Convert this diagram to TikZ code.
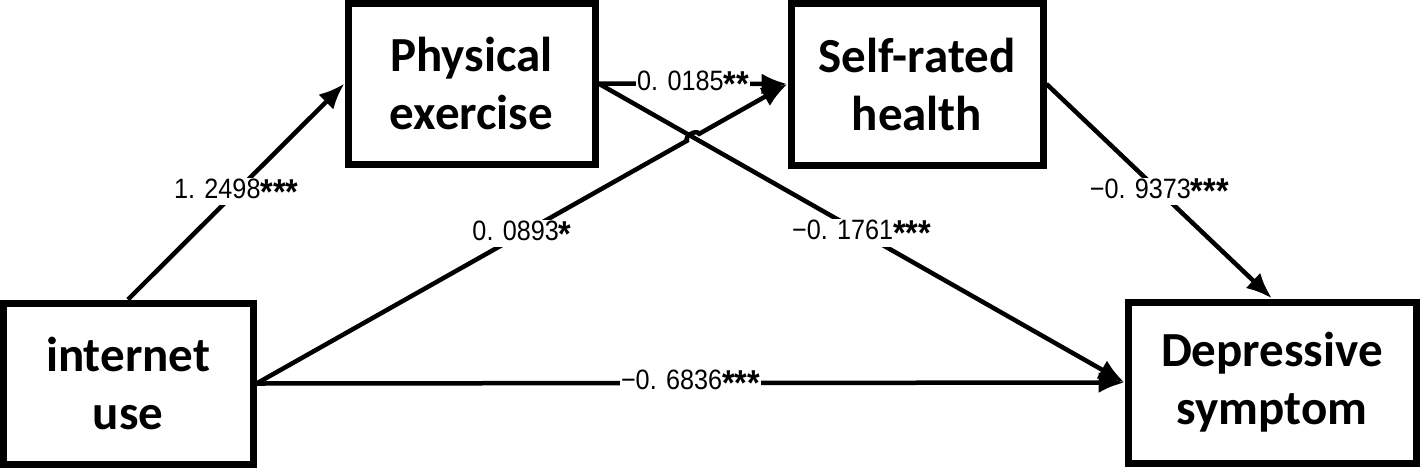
\documentclass[tikz,border=0pt]{standalone}
\usepackage{fontspec}
\newfontfamily\boxfont{Carlito}
\newfontfamily\coeffont{Liberation Sans}[FakeStretch=0.9]
\usetikzlibrary{arrows.meta,calc}
\newcommand{\stars}[1]{\raisebox{-0.2em}{\fontsize{36}{36}\selectfont\bfseries #1}}

\begin{document}
\begin{tikzpicture}[x=1pt,y=-1pt,var/.style={draw, line width=7pt, align=center, inner sep=0pt, font=\fontsize{49}{58}\boxfont\bfseries},coef/.style={fill=white, inner sep=1pt, font=\fontsize{28}{30}\coeffont},path/.style={line width=4.5pt, -{Latex[length=26pt,width=21pt]}}]
\useasboundingbox (0,0) rectangle (1421,467);
\node[var, minimum width=250pt, minimum height=161pt] (iu) at (128,383.5) {internet\\use};
\node[var, minimum width=247pt, minimum height=161pt] (pe) at (471.5,83.5) {Physical\\exercise};
\node[var, minimum width=252pt, minimum height=162pt] (srh) at (917,84) {Self-rated\\health};
\node[var, minimum width=288pt, minimum height=161pt] (ds) at (1272,382.5) {Depressive\\symptom};
\coordinate (cross) at (intersection of pe.east--ds.west and iu.east--srh.west);
\draw[path] (iu.north) -- node[coef] {1. 2498\stars{***}} (pe.west);
\draw[path] (pe.east) -- node[coef] {0. 0185\stars{**}} (srh.west);
\draw[path] (pe.east) -- node[coef] {−0. 1761\stars{***}} (ds.west);
\draw[path] (iu.east) -- ($(cross)!7pt!(iu.east)$) to[bend left=90] ($(cross)!7pt!(srh.west)$) -- (srh.west);
\path (iu.east) -- node[coef] {0. 0893\stars{*}} (srh.west);
\draw[path] (iu.east) -- node[coef] {−0. 6836\stars{***}} (ds.west);
\draw[path] (srh.east) -- node[coef] {−0. 9373\stars{***}} (ds.north);
\end{tikzpicture}
\end{document}
